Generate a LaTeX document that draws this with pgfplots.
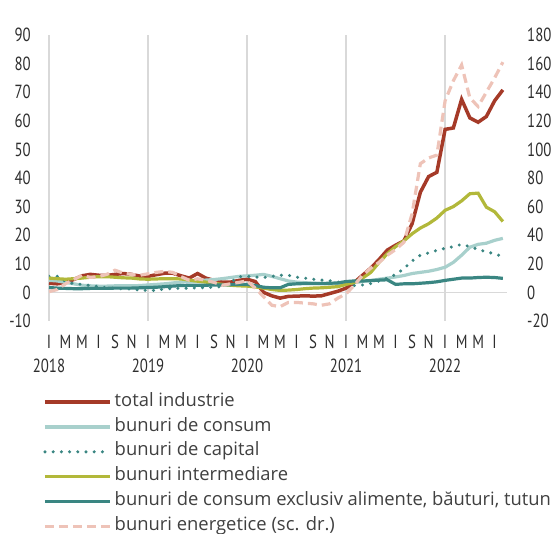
\documentclass[border=0pt]{standalone}
\usepackage{fontspec}
\setmainfont{Open Sans}
\newfontfamily\tickfont[FakeStretch=0.78]{PT Sans}
\usepackage{pgfplots}
\usepackage{pgfplotstable}
\pgfplotsset{compat=1.18}

\definecolor{totc}{HTML}{A53A28}
\definecolor{consc}{HTML}{A8D0CC}
\definecolor{capc}{HTML}{3A8682}
\definecolor{intc}{HTML}{B2B83A}
\definecolor{exclc}{HTML}{3A8682}
\definecolor{enc}{HTML}{EEC3B8}
\definecolor{gridc}{HTML}{D9D9D9}
\definecolor{txtc}{HTML}{2E2E2E}
\definecolor{legc}{HTML}{404040}

% monthly data, i = 0 is January 2018
\pgfplotstableread{
i  tot   cons  cap   inter excl  energ
0  3.2   4.2   5.6   5.0   1.7   0.5
1  3.0   4.0   5.6   4.8   1.5   2.0
2  3.4   3.5   3.8   4.6   1.4   6.0
3  4.5   3.0   3.0   4.8   1.3   9.0
4  5.8   2.5   2.8   5.0   1.3   12.0
5  6.3   2.3   2.4   5.3   1.4   10.5
6  6.0   2.2   2.0   5.5   1.4   11.0
7  5.9   2.2   1.6   5.5   1.4   12.6
8  6.3   2.3   1.4   5.3   1.5   15.5
9  6.6   2.3   1.3   5.1   1.5   13.5
10 6.3   2.3   1.2   5.0   1.5   12.5
11 5.7   2.4   0.8   4.7   1.6   12.0
12 5.6   2.6   0.7   4.6   1.7   13.0
13 6.2   2.8   0.7   4.7   1.8   14.0
14 6.7   3.0   1.2   4.8   2.0   14.7
15 6.7   3.3   1.4   4.8   2.2   14.0
16 5.8   3.6   1.4   4.7   2.4   11.0
17 5.0   3.8   1.5   4.3   2.5   8.5
18 6.6   4.0   1.6   3.9   2.5   9.5
19 5.0   4.3   1.7   3.6   2.5   8.5
20 4.2   4.5   1.8   3.2   2.6   7.0
21 3.6   4.8   2.0   2.8   2.6   5.0
22 3.6   5.2   3.5   2.5   2.7   6.0
23 4.2   5.6   5.5   2.3   2.8   7.0
24 4.6   5.8   5.6   2.2   2.8   8.0
25 3.8   6.0   5.4   1.9   2.4   3.0
26 0.0   6.3   5.2   1.5   1.8   -3.0
27 -1.2  5.6   5.6   1.0   1.6   -9.0
28 -2.0  4.8   6.0   0.7   1.6   -10.0
29 -1.4  4.0   6.0   0.8   2.8   -7.0
30 -1.3  3.6   5.3   1.0   3.0   -7.0
31 -1.2  3.4   5.0   1.3   3.1   -7.5
32 -1.3  3.2   4.6   1.5   3.1   -8.0
33 -1.2  3.1   4.3   1.6   3.1   -9.0
34 -0.4  3.0   4.1   1.8   3.2   -8.0
35 0.4   3.0   3.6   2.0   3.3   -4.0
36 1.5   3.1   3.0   2.8   3.8   -1.0
37 3.5   3.4   2.4   3.5   4.0   5.0
38 6.0   3.8   2.6   5.0   4.0   12.0
39 8.5   4.2   3.1   7.0   4.1   17.0
40 11.5  4.6   4.0   10.5  4.3   21.0
41 14.8  5.0   5.0   13.5  4.4   26.0
42 16.5  5.4   6.2   16.0  2.8   30.0
43 18.0  5.9   8.3   18.0  3.0   35.0
44 24.0  6.6   11.0  20.5  3.0   55.0
45 35.0  7.0   13.0  22.5  3.2   90.0
46 40.5  7.4   13.8  24.0  3.4   94.0
47 42.0  8.0   14.7  26.0  3.7   96.0
48 57.0  8.8   15.4  28.7  4.2   134.0
49 57.5  10.5  16.0  30.0  4.6   148.0
50 67.5  13.0  16.8  32.0  5.0   159.0
51 61.0  15.8  16.0  34.5  5.0   136.0
52 59.5  16.8  15.0  34.7  5.2   130.0
53 61.5  17.2  14.2  29.8  5.3   140.0
54 67.0  18.2  13.5  28.2  5.2   150.0
55 70.8  18.9  12.5  24.8  4.9   161.0
}\prices

\pgfplotsset{
  common/.style={
    scale only axis, width=458pt, height=286pt,
    xmin=0, xmax=55.5,
    axis line style={draw=none},
    major tick length=0pt,
    /pgf/number format/assume math mode=true,
    tick label style={font=\tickfont\fontsize{19}{19}\selectfont, text=txtc},
  },
  dotline/.style={line width=3.4pt, line cap=round, dash pattern=on 0pt off 8.2pt},
  dashline/.style={line width=3.2pt, dash pattern=on 9pt off 5pt},
}

\begin{document}
\begin{tikzpicture}
\begin{axis}[common,
  ymin=-10, ymax=90,
  ytick={-10,0,...,90}, ytick pos=left,
  yticklabel style={anchor=east, inner sep=0pt, xshift=-18pt},
  xtick={0,2,...,54}, xtick pos=bottom,
  xticklabels={I,M,M,I,S,N,I,M,M,I,S,N,I,M,M,I,S,N,I,M,M,I,S,N,I,M,M,I},
  xticklabel style={anchor=north, inner sep=0pt, yshift=-14pt},
  extra x ticks={0,12,24,36,48},
  extra x tick labels={2018,2019,2020,2021,2022},
  extra x tick style={grid=major, major grid style={draw=gridc, line width=1.4pt},
    xticklabel style={yshift=-24pt}},
  legend style={at={(-0.013,-0.24)}, anchor=north west, draw=none, fill=none,
    font=\fontsize{18.4}{21}\selectfont, text=legc, inner sep=0pt,
    nodes={inner ysep=4.4pt, inner xsep=3pt, text height=12pt, text depth=4pt}},
  legend cell align=left,
  legend image code/.code={\draw[#1] (0pt,0pt) -- (65pt,0pt);},
]
\coordinate (O) at (rel axis cs:0,0);
\draw[gridc, line width=1.4pt] ({rel axis cs:0,0}|-{axis cs:0,0}) -- ({rel axis cs:1,0}|-{axis cs:0,0});
\addplot[totc, line width=3.5pt] table[x=i, y=tot] {\prices};
\addlegendentry{total industrie}
\addplot[consc, line width=3.2pt] table[x=i, y=cons] {\prices};
\addlegendentry{bunuri de consum}
\addplot[capc, dotline] table[x=i, y=cap] {\prices};
\addlegendentry{bunuri de capital}
\addplot[intc, line width=3.2pt] table[x=i, y=inter] {\prices};
\addlegendentry{bunuri intermediare}
\addplot[exclc, line width=3.2pt] table[x=i, y=excl] {\prices};
\addlegendentry{bunuri de consum exclusiv alimente, băuturi, tutun}
\addlegendimage{enc, dashline}
\addlegendentry{bunuri energetice (sc. dr.)}
\node[anchor=base, font=\fontsize{16.6}{19}\selectfont, text=legc, xshift=3.5pt, yshift=8pt]
  at (rel axis cs:0.5,1) {variație anuală (\%)};
\end{axis}
\begin{axis}[common,
  ymin=-20, ymax=180,
  ytick={-20,0,...,180}, ytick pos=right,
  yticklabel style={anchor=west, inner sep=0pt, xshift=20pt},
  hide x axis,
]
\addplot[enc, dashline] table[x=i, y=energ] {\prices};
\end{axis}
\pgfresetboundingbox
\path ([shift={(-49pt,-213pt)}]O) rectangle ++(558pt,534pt);
\end{tikzpicture}
\end{document}
